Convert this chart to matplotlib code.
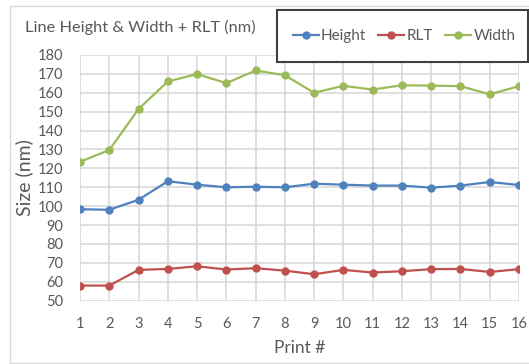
import matplotlib.pyplot as plt
from matplotlib.patches import Rectangle

prints = list(range(1, 17))
height = [98.4, 98.1, 103.4, 113.2, 111.4, 110.0, 110.3, 110.0, 111.9, 111.4, 110.9, 110.9, 109.8, 110.9, 112.8, 111.2]
rlt = [58.0, 58.0, 66.3, 66.8, 68.2, 66.5, 67.2, 65.9, 64.0, 66.3, 64.9, 65.6, 66.7, 66.8, 65.2, 66.7]
width = [123.5, 129.7, 151.4, 166.0, 169.9, 165.1, 171.8, 169.3, 160.0, 163.7, 161.7, 164.0, 163.8, 163.5, 159.2, 163.5]

plt.rcParams['font.family'] = ['Lato', 'DejaVu Sans']
grey = '#595959'

fig = plt.figure(figsize=(5.29, 3.64), dpi=100)
W, H = 529, 364

# outer chart border
fig.patches.append(Rectangle((10 / W, 1 - 363 / H), 1.1, (363 - 6) / H, transform=fig.transFigure,
                             fill=False, edgecolor='#d9d9d9', linewidth=1))

ax = fig.add_axes([80 / W, 1 - 300.7 / H, (519 - 80) / W, (300.7 - 55) / H])
ax.plot(prints, height, color='#4F81BD', marker='o', markersize=5, linewidth=1.6, label='Height')
ax.plot(prints, rlt, color='#C0504D', marker='o', markersize=5, linewidth=1.6, label='RLT')
ax.plot(prints, width, color='#9BBB59', marker='o', markersize=5, linewidth=1.6, label='Width')

ax.set_xlim(1, 16)
ax.set_ylim(50, 180)
ax.set_xticks(prints)
ax.set_yticks(range(50, 181, 10))
ax.grid(True, color='#d9d9d9', linewidth=1.2)
ax.set_axisbelow(True)
for s in ax.spines.values():
    s.set_visible(False)
ax.tick_params(length=0, colors=grey, labelsize=10.5)
ax.tick_params(axis='x', pad=12)
ax.tick_params(axis='y', pad=12)
ax.set_xlabel('Print #', color=grey, fontsize=12.5, labelpad=6)
ax.set_ylabel('Size (nm)', color=grey, fontsize=14)
ax.yaxis.set_label_coords((33 - 80) / 439, 0.5)

fig.text(25 / W, 1 - 27 / H, 'Line Height & Width + RLT (nm)', color=grey, fontsize=11.8,
         ha='left', va='center')

# legend box
fig.patches.append(Rectangle((277 / W, 1 - 62 / H), (528 - 277) / W, (62 - 10) / H,
                             transform=fig.transFigure, facecolor='white',
                             edgecolor='#404040', linewidth=1.5, zorder=5))
leg = fig.legend(loc='center', bbox_to_anchor=(404 / W, 1 - 36 / H), ncol=3, frameon=False,
                 fontsize=11, handlelength=1.7, handletextpad=0.15, columnspacing=0.8,
                 labelcolor=grey)
leg.set_zorder(6)

plt.savefig('out.png', dpi=100)
